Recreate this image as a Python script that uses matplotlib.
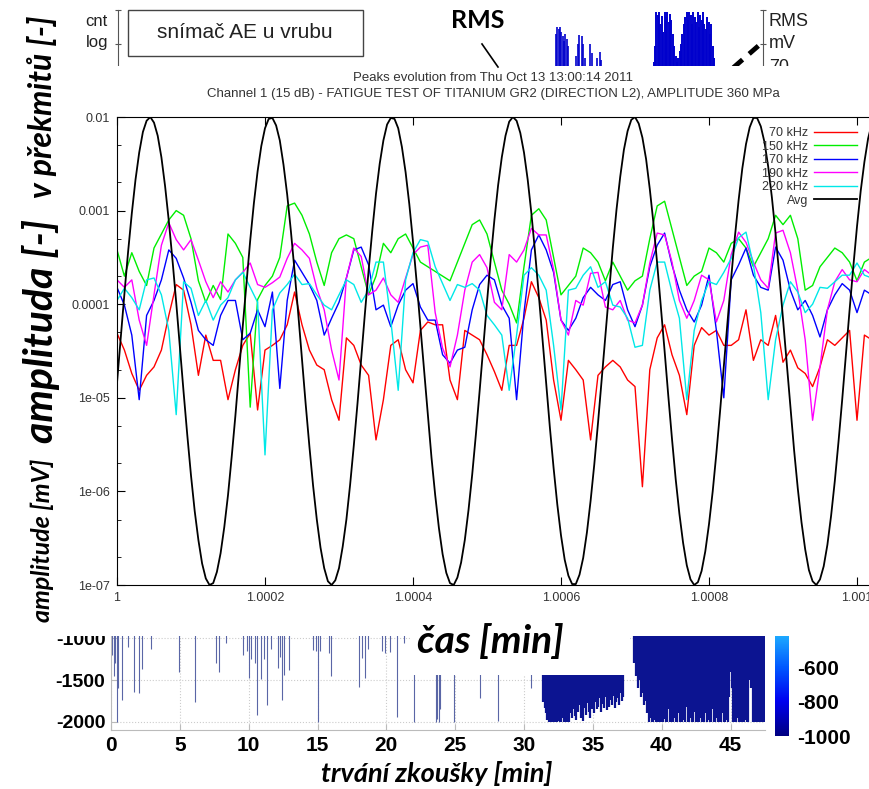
import numpy as np
import matplotlib
matplotlib.use('Agg')
import matplotlib.pyplot as plt
from matplotlib.colors import LinearSegmentedColormap, Normalize
from matplotlib.cm import ScalarMappable
from matplotlib.patches import Rectangle
from matplotlib.lines import Line2D
from matplotlib.ticker import LogLocator, NullFormatter

plt.rcParams['axes.unicode_minus'] = False

W, H = 870, 789

# --- main chart: peaks evolution (log10 of amplitude)
# frequency bands are read every 1e-5, the Avg curve every 5e-6, both from x = 1.0
peaks_x0 = 1.0
peaks_dx = 1e-5
avg_dx = 5e-6
avg_log = [-4.84, -4.36, -3.89, -3.44, -3.03, -2.67, -2.38, -2.16, -2.04, -2.00,
           -2.06, -2.20, -2.43, -2.74, -3.11, -3.53, -3.98, -4.46, -4.94, -5.40,
           -5.83, -6.21, -6.52, -6.77, -6.93, -7.00, -6.98, -6.86, -6.66, -6.38,
           -6.04, -5.63, -5.19, -4.71, -4.23, -3.77, -3.32, -2.92, -2.58, -2.31,
           -2.12, -2.02, -2.01, -2.09, -2.25, -2.51, -2.83, -3.22, -3.65, -4.11,
           -4.59, -5.07, -5.52, -5.94, -6.30, -6.60, -6.82, -6.96, -7.00, -6.95,
           -6.82, -6.59, -6.30, -5.93, -5.51, -5.06, -4.58, -4.10, -3.64, -3.21,
           -2.82, -2.50, -2.25, -2.08, -2.01, -2.02, -2.12, -2.32, -2.59, -2.93,
           -3.33, -3.77, -4.24, -4.72, -5.19, -5.64, -6.04, -6.39, -6.67, -6.87,
           -6.98, -7.00, -6.92, -6.76, -6.52, -6.20, -5.82, -5.39, -4.93, -4.45,
           -3.98, -3.52, -3.10, -2.73, -2.43, -2.20, -2.05, -2.00, -2.04, -2.17,
           -2.38, -2.67, -3.03, -3.45, -3.90, -4.37, -4.85, -5.32, -5.75, -6.14,
           -6.47, -6.73, -6.90, -6.99, -6.99, -6.89, -6.71, -6.44, -6.10, -5.71,
           -5.27, -4.80, -4.32, -3.85, -3.40, -2.99, -2.64, -2.35, -2.15, -2.03,
           -2.00, -2.07, -2.22, -2.45, -2.77, -3.14, -3.57, -4.03, -4.50, -4.98,
           -5.44, -5.87, -6.24, -6.55, -6.79, -6.94, -7.00, -6.97, -6.85, -6.64,
           -6.35, -6.00, -5.59, -5.14, -4.67, -4.19, -3.72, -3.28, -2.89, -2.55,
           -2.29, -2.11, -2.01, -2.01, -2.10, -2.27, -2.53, -2.86, -3.25, -3.69,
           -4.16, -4.64, -5.11, -5.56, -5.97, -6.33, -6.62, -6.84, -6.96, -7.00,
           -6.94, -6.80, -6.57, -6.26, -5.89, -5.47, -5.02, -4.54, -4.06, -3.60,
           -3.17, -2.79, -2.48, -2.23, -2.07]
green_log = [-3.42, -3.70, -3.45, -3.65, -3.80, -3.40, -3.25, -3.10, -3.00, -3.05,
             -3.30, -3.75, -3.98, -3.80, -3.95, -3.25, -3.35, -3.50, -5.10, -3.95,
             -3.80, -3.70, -3.50, -2.95, -2.92, -3.05, -3.25, -3.55, -3.80, -3.45,
             -3.30, -3.26, -3.30, -3.60, -3.90, -3.70, -3.35, -3.45, -3.30, -3.25,
             -3.40, -3.55, -3.60, -3.65, -3.70, -3.75, -3.55, -3.35, -3.15, -3.10,
             -3.25, -3.55, -3.85, -4.00, -4.20, -3.60, -3.05, -2.98, -3.10, -3.50,
             -3.90, -3.80, -3.70, -3.40, -3.45, -3.55, -3.75, -3.55, -3.70, -3.85,
             -3.75, -3.70, -3.30, -2.95, -2.90, -3.20, -3.50, -3.80, -3.70, -3.65,
             -3.40, -3.45, -3.55, -3.35, -3.30, -3.40, -3.60, -3.45, -3.30, -3.05,
             -3.15, -3.05, -3.30, -3.85, -3.80, -3.60, -3.50, -3.40, -3.45, -3.55,
             -3.75, -3.55, -3.50]
red_log = [-4.31, -4.49, -4.74, -4.92, -4.76, -4.67, -4.49, -4.12, -3.79, -3.85,
           -4.22, -4.76, -4.33, -4.60, -4.60, -5.02, -4.70, -4.44, -4.31, -5.13,
           -4.49, -4.44, -4.38, -4.22, -3.87, -4.22, -4.49, -4.65, -4.70, -5.02,
           -5.24, -4.36, -4.44, -4.65, -4.76, -5.45, -5.02, -4.44, -4.38, -4.70,
           -4.84, -4.28, -4.19, -4.22, -4.22, -4.81, -5.02, -4.28, -4.33, -4.38,
           -4.54, -4.72, -4.92, -4.44, -4.44, -4.15, -3.76, -3.93, -4.17, -4.81,
           -5.24, -4.60, -4.70, -4.81, -5.45, -4.76, -4.67, -4.60, -4.67, -4.81,
           -4.88, -5.95, -4.70, -4.36, -4.22, -4.54, -4.76, -5.18, -4.44, -4.25,
           -4.33, -4.28, -4.44, -4.44, -4.38, -4.06, -4.60, -4.38, -4.44, -4.12,
           -4.62, -4.49, -4.68, -4.74, -4.88, -4.67, -4.38, -4.44, -4.36, -4.28,
           -5.24, -4.33, -4.38]
blue_log = [-3.82, -4.01, -4.33, -5.02, -4.12, -3.96, -3.74, -3.42, -3.51, -3.72,
            -3.98, -4.28, -4.38, -4.44, -4.12, -3.96, -3.96, -4.38, -4.31, -4.06,
            -4.24, -3.87, -4.90, -3.96, -3.53, -3.66, -3.79, -3.96, -4.33, -4.15,
            -3.98, -3.72, -3.42, -3.39, -3.58, -4.06, -4.01, -4.24, -4.01, -3.85,
            -3.78, -4.03, -4.17, -4.17, -4.54, -4.63, -4.49, -4.46, -4.06, -3.79,
            -3.69, -3.74, -4.01, -4.15, -5.02, -4.09, -3.42, -3.26, -3.42, -3.66,
            -4.17, -4.28, -4.15, -3.93, -3.82, -3.90, -3.96, -3.79, -3.76, -4.06,
            -4.24, -4.01, -3.60, -3.37, -3.24, -3.58, -3.85, -4.06, -4.19, -4.01,
            -3.69, -4.28, -5.00, -3.74, -3.58, -3.40, -3.69, -3.82, -3.85, -3.39,
            -3.53, -3.85, -4.06, -3.96, -4.12, -4.35, -4.06, -3.90, -3.78, -3.85,
            -4.09, -3.85, -3.90]
magenta_log = [-3.74, -3.82, -3.74, -4.17, -4.44, -3.90, -3.37, -3.13, -3.31, -3.42,
               -3.31, -3.53, -3.76, -3.93, -3.76, -3.87, -3.74, -3.66, -3.56, -3.79,
               -3.82, -3.77, -3.71, -3.51, -3.35, -3.42, -3.51, -3.83, -4.06, -4.49,
               -4.81, -3.72, -3.40, -3.49, -3.90, -3.85, -3.72, -3.90, -3.98, -3.72,
               -3.47, -3.39, -3.37, -4.09, -4.47, -4.67, -4.33, -3.85, -3.55, -3.47,
               -3.61, -3.98, -4.06, -3.47, -3.55, -3.42, -3.19, -3.26, -3.26, -3.63,
               -4.17, -4.33, -3.96, -4.01, -3.67, -3.66, -4.03, -4.06, -3.96, -4.17,
               -4.20, -4.01, -3.56, -3.24, -3.26, -3.55, -3.96, -4.15, -3.96, -3.69,
               -3.74, -4.19, -3.96, -3.47, -3.23, -3.34, -3.55, -3.74, -3.83, -3.24,
               -3.21, -3.45, -3.85, -4.38, -5.24, -4.67, -4.06, -3.76, -3.63, -3.74,
               -3.76, -3.63, -3.69]
cyan_log = [-3.96, -3.83, -3.93, -4.06, -3.74, -3.72, -3.90, -4.28, -5.18, -3.76,
            -3.83, -4.12, -3.96, -4.17, -4.01, -3.93, -3.74, -3.66, -3.82, -3.98,
            -5.61, -4.06, -3.88, -3.79, -3.68, -3.79, -3.78, -3.90, -4.01, -4.06,
            -3.90, -3.74, -3.79, -3.98, -3.85, -3.55, -3.55, -4.17, -4.92, -3.74,
            -3.45, -3.31, -3.33, -3.60, -3.78, -3.96, -3.79, -3.82, -3.78, -3.85,
            -4.12, -4.22, -4.33, -4.92, -4.33, -3.69, -3.61, -3.69, -3.85, -4.44,
            -5.13, -3.85, -3.83, -3.69, -3.60, -3.82, -3.76, -4.01, -4.03, -4.15,
            -4.46, -4.44, -3.85, -3.55, -3.55, -3.87, -4.15, -5.02, -4.28, -3.96,
            -3.76, -3.79, -3.66, -3.51, -3.29, -3.23, -3.58, -4.09, -5.02, -4.38,
            -4.01, -3.76, -3.87, -4.09, -4.00, -3.82, -3.83, -3.76, -3.69, -3.69,
            -3.56, -3.69, -3.72]
series_names = ['70 kHz', '150 kHz', '170 kHz', '190 kHz', '220 kHz', 'Avg']
x_ticks = [1.0, 1.0002, 1.0004, 1.0006, 1.0008, 1.001]
x_ticklabels = ['1', '1.0002', '1.0004', '1.0006', '1.0008', '1.001']
y_ticklabels = ['1e-07', '1e-06', '1e-05', '0.0001', '0.001', '0.01']

# --- bottom chart: sparse spikes (time min, lower end) and dense bands
spike_t = [0.1, 0.2, 0.3, 0.45, 0.5, 0.78, 1.25, 1.7, 2.0, 2.27, 2.9, 4.95, 6.1,
           7.6, 7.85, 8.35, 9.6, 9.9, 10.05, 10.2, 10.45, 10.6, 10.9, 11.1, 11.3,
           11.6, 12.1, 12.3, 12.45, 12.6, 12.9, 14.7, 14.9, 15.0, 15.2, 15.8, 16.0,
           18.0, 18.2, 18.45, 18.7, 19.7, 19.9, 20.3, 20.8, 21.3, 22.0, 23.6, 23.7,
           23.8, 23.9, 24.9, 26.8, 28.1, 30.5]
spike_d = [-1200, -1450, -1300, -2000, -1600, -1735, -1100, -1640, -1660, -1370,
           -1130, -1400, -1760, -1290, -1400, -1050, -1200, -1150, -1470, -1250,
           -1290, -1915, -1490, -1250, -1800, -1130, -1350, -1220, -1735, -1440,
           -1380, -1140, -1150, -2000, -1150, -1170, -1450, -1580, -1230, -1480,
           -1130, -1150, -1180, -1160, -1940, -1050, -2000, -2000, -1970, -2000,
           -1850, -2000, -1710, -1990, -1590]
band1_start = 31.4
band1_d = [-1760, -1830, -1900, -1980, -2000, -2000, -2000, -2000, -2000, -2000,
           -2000, -1990, -2000, -2000, -1960, -2000, -2000, -2000, -1940, -2000,
           -1900, -1960, -1850, -1930, -1980, -1880, -1800, -1950, -1870, -1990,
           -1830, -1920, -1780, -1880, -1960, -1850, -1800, -1900, -1760, -1850,
           -1820, -1720, -1880, -1790, -1840, -1700, -1860, -1780, -1820, -1740,
           -1800, -1690, -1830, -1760, -1720, -1800, -1650, -1750, -1700]
band2_start = 38.0
band2_d = [-1300, -1450, -1380, -1600, -1500, -1700, -1650, -1800, -1750, -1900,
           -1850, -2000, -1950, -2000, -2000, -1980, -2000, -2000, -1900, -2000,
           -2000, -2000, -1970, -2000, -2000, -1850, -2000, -2000, -2000, -1950,
           -2000, -2000, -1900, -2000, -2000, -2000, -1980, -2000, -1820, -2000,
           -2000, -1950, -2000, -2000, -1880, -2000, -2000, -2000, -1960, -2000,
           -2000, -2000, -1900, -2000, -1980, -2000, -2000, -1850, -2000, -2000,
           -1950, -2000, -2000, -2000, -1900, -2000, -2000, -1980, -2000, -1700,
           -1400, -1600, -2000, -2000, -2000, -1950, -2000, -2000, -2000, -2000,
           -2000, -1980, -2000, -2000, -1500, -1600, -2000, -2000, -2000, -2000,
           -2000, -2000, -2000, -2000, -2000]
band_step = 0.1

# --- top strip: counts (blue) and RMS (dashed)
cnt_t = [32.3, 32.4, 32.5, 32.6, 32.7, 32.8, 32.9, 33.0, 33.1, 33.2,
         33.8, 33.9, 34.0, 34.2, 34.3, 34.4, 34.8, 34.9, 35.3, 35.5, 35.6]
cnt_v = [80, 86, 84, 86, 82, 78, 74, 80, 76, 70,
         62, 72, 79, 78, 72, 60, 72, 64, 60, 65, 58]
cnt2_start = 39.3
cnt2_v = [50, 57, 70, 98, 96, 98, 88, 95, 82, 98,
          94, 98, 90, 97, 92, 80, 70, 62, 57, 60,
          66, 72, 80, 88, 94, 98, 92, 98, 96, 88,
          98, 94, 90, 98, 86, 96, 92, 98, 88, 84,
          94, 90, 80, 88, 70, 60]
rms_t = [45.2, 46.2, 47.2]
rms_v = [52, 62, 72]


def fx(px):
    return px / W


def fy(py):
    return 1 - py / H


def axes_px(fig, left, top, right, bottom, **kw):
    return fig.add_axes([left / W, 1 - bottom / H, (right - left) / W, (bottom - top) / H], **kw)


def fig_rect(fig, left, top, right, bottom, z):
    r = Rectangle((fx(left), fy(bottom)), (right - left) / W, (bottom - top) / H,
                  transform=fig.transFigure, facecolor='white', edgecolor='none', zorder=z)
    fig.add_artist(r)


fig = plt.figure(figsize=(W / 100, H / 100), dpi=100)
narrow = ['Liberation Sans Narrow', 'Liberation Sans', 'DejaVu Sans']
calib = ['Lato', 'DejaVu Sans']

# ---------------- bottom layer: top strip
min_px = 13.77  # pixels per minute on the original time axis
ax_t = axes_px(fig, 118, 10, 763, 130, zorder=0)
ax_t.set_xlim((118 - 111) / min_px, (763 - 111) / min_px)
ax_t.set_ylim(0, 100)
ax_t.vlines(cnt_t, 0, cnt_v, color='#0000cc', lw=1.2)
cnt2_t = cnt2_start + band_step * np.arange(len(cnt2_v))
ax_t.vlines(cnt2_t, 0, cnt2_v, color='#0000cc', lw=1.4)
ax_t.plot(rms_t, rms_v, color='black', lw=3.5, dashes=(2.5, 1.8))
for s in ['top', 'bottom']:
    ax_t.spines[s].set_visible(False)
for s in ['left', 'right']:
    ax_t.spines[s].set_color('#555555')
ax_t.set_xticks([])
ax_t.set_yticks([100, 71.7])
ax_t.tick_params(axis='y', length=4, color='#555555', labelleft=False, right=True,
                 direction='inout')
fig.text(fx(108), fy(21), 'cnt', ha='right', va='center', fontsize=12,
         family='Liberation Sans', color='#222222', zorder=0.5)
fig.text(fx(108), fy(43), 'log', ha='right', va='center', fontsize=12,
         family='Liberation Sans', color='#222222', zorder=0.5)
for lab, py in [('RMS', 22), ('mV', 43), ('70', 68)]:
    fig.text(fx(769), fy(py), lab, ha='left', va='center', fontsize=13,
             family='Liberation Sans', color='#222222', zorder=0.5)
box = Rectangle((fx(128), fy(56)), 235 / W, 46 / H, transform=fig.transFigure,
                facecolor='white', edgecolor='#444444', lw=1.0, zorder=0.6)
fig.add_artist(box)
fig.text(fx(245), fy(33), 'snímač AE u vrubu', ha='center', va='center', fontsize=15,
         family='Liberation Sans', color='#222222', zorder=0.7)

# ---------------- bottom layer: waterfall
ax_b = axes_px(fig, 111, 626, 765, 730, zorder=0)
ax_b.set_xlim(0, 47.5)
ax_b.set_ylim(-2100, -850)
ax_b.set_axisbelow(True)
ax_b.grid(True, color='#cccccc', ls=':', lw=0.8)
ax_b.vlines(spike_t, spike_d, -850, color='#5a66a6', lw=0.8)
band1_t = band1_start + band_step * np.arange(len(band1_d))
band2_t = band2_start + band_step * np.arange(len(band2_d))
ax_b.vlines(band1_t, band1_d, -850, color='#0c1491', lw=1.6)
ax_b.vlines(band2_t, band2_d, -850, color='#0c1491', lw=1.6)
ax_b.set_xticks(np.arange(0, 46, 5))
ax_b.set_yticks([-2000, -1500, -1000])
for s in ['top', 'right']:
    ax_b.spines[s].set_visible(False)
for s in ['left', 'bottom']:
    ax_b.spines[s].set_color('#bbbbbb')
ax_b.tick_params(length=4, color='#bbbbbb', direction='in', pad=4)
for lab in ax_b.get_xticklabels():
    lab.set_fontfamily(narrow)
    lab.set_fontweight('bold')
    lab.set_fontsize(15)
for lab in ax_b.get_yticklabels():
    lab.set_fontfamily(narrow)
    lab.set_fontweight('bold')
    lab.set_fontsize(14)
fig.text(fx(437), fy(773), 'trvání zkoušky [min]', ha='center', va='center',
         fontsize=19.5, family=calib, weight='bold', style='italic')

cmap = LinearSegmentedColormap.from_list(
    'wf', [(0.0, '#000080'), (0.33, '#0000f0'), (0.65, '#0058ff'), (1.0, '#22b8ff')])
cax = axes_px(fig, 775, 630, 789, 736, zorder=0)
cb = fig.colorbar(ScalarMappable(norm=Normalize(-1000, -385), cmap=cmap), cax=cax)
cb.outline.set_visible(False)
cb.set_ticks([-1000, -800, -600])
cax.tick_params(length=0, pad=6)
for lab in cax.get_yticklabels():
    lab.set_fontfamily(narrow)
    lab.set_fontweight('bold')
    lab.set_fontsize(15)

# ---------------- white cover for the pasted chart
fig_rect(fig, 0, 66, 870, 636, 1)
fig_rect(fig, 410, 630, 630, 675, 1)

# ---------------- main chart
ax = axes_px(fig, 117, 117, 880, 585, zorder=2)
x = peaks_x0 + peaks_dx * np.arange(len(red_log))
x_avg = peaks_x0 + avg_dx * np.arange(len(avg_log))
colors = ['#ff0000', '#00ee00', '#0000ff', '#ff00ff', '#00e8e8', 'black']
band_series = [red_log, green_log, blue_log, magenta_log, cyan_log]
for vals, c, name in zip(band_series, colors, series_names):
    ax.plot(x, 10.0 ** np.array(vals), color=c, lw=1.0, label=name)
ax.plot(x_avg, 10.0 ** np.array(avg_log), color='black', lw=1.3, label=series_names[-1])
ax.set_yscale('log')
ax.set_ylim(1e-7, 1e-2)
ax.set_xlim(1.0, 1.0 + 763 / 740 * 0.001)
ax.set_xticks(x_ticks)
ax.set_xticklabels(x_ticklabels)
ax.set_yticks([1e-7, 1e-6, 1e-5, 1e-4, 1e-3, 1e-2])
ax.set_yticklabels(y_ticklabels)
ax.yaxis.set_minor_locator(LogLocator(base=10, subs=(2.0, 5.0)))
ax.yaxis.set_minor_formatter(NullFormatter())
ax.tick_params(which='both', direction='in', top=True, right=True, labelsize=9,
               labelcolor='#333333', pad=5)
ax.tick_params(which='major', length=6)
ax.tick_params(which='minor', length=3)
for lab in ax.get_xticklabels() + ax.get_yticklabels():
    lab.set_fontfamily('Liberation Sans')
leg = ax.legend(loc='upper right', bbox_to_anchor=(0.9698, 0.978), frameon=False,
                markerfirst=False, handlelength=3.4, handletextpad=0.5,
                labelspacing=0.12, borderpad=0, borderaxespad=0,
                prop={'family': 'Liberation Sans', 'size': 9})
for t in leg.get_texts():
    t.set_color('#333333')

fig.text(fx(493), fy(78), 'Peaks evolution from Thu Oct 13 13:00:14 2011', ha='center',
         va='center', fontsize=9.5, family='Liberation Sans', color='#333333', zorder=3)
fig.text(fx(493), fy(94), 'Channel 1 (15 dB) - FATIGUE TEST OF TITANIUM GR2 (DIRECTION L2), '
         'AMPLITUDE 360 MPa', ha='center', va='center', fontsize=9.5,
         family='Liberation Sans', color='#333333', zorder=3)

# ---------------- overlay captions
fig.text(fx(41), fy(331), 'amplituda [-]', rotation=90, ha='center', va='center',
         fontsize=29.5, family=calib, weight='bold', style='italic', zorder=4)
fig.text(fx(42), fy(198), 'v překmitů [-]', rotation=90, ha='center', va='bottom',
         fontsize=23, family=calib, weight='bold', style='italic', zorder=4)
fig.text(fx(42), fy(622), 'amplitude [mV]', rotation=90, ha='center', va='bottom',
         fontsize=18, family=calib, weight='bold', style='italic', zorder=4)
fig.text(fx(490), fy(641), 'čas [min]', ha='center', va='center',
         fontsize=28, family=calib, weight='bold', style='italic', zorder=4)
fig.text(fx(478), fy(21), 'RMS', ha='center', va='center', fontsize=18,
         family=calib, weight='bold', zorder=4)
fig.add_artist(Line2D([fx(482), fx(498)], [fy(44), fy(67)], transform=fig.transFigure,
                      color='black', lw=1.2, zorder=4))

fig.savefig('out.png', dpi=100)
